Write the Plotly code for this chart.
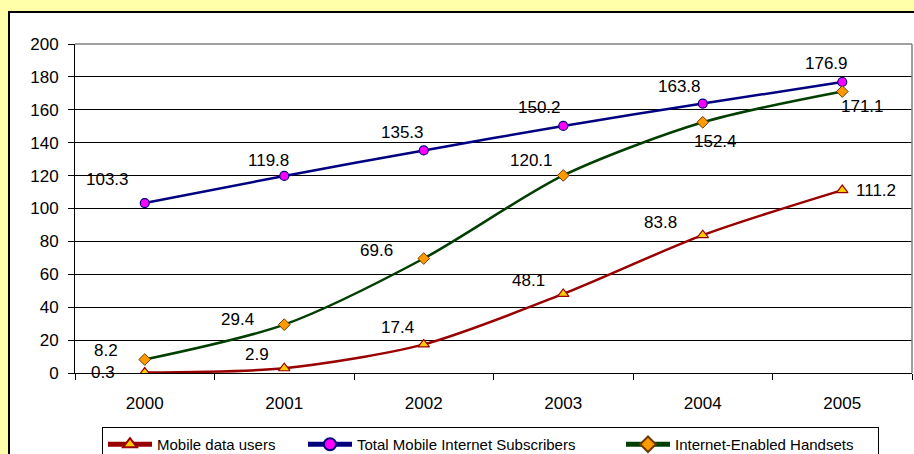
import plotly.graph_objects as go

years = ["2000", "2001", "2002", "2003", "2004", "2005"]
mobile_data_users = [0.3, 2.9, 17.4, 48.1, 83.8, 111.2]
total_subscribers = [103.3, 119.8, 135.3, 150.2, 163.8, 176.9]
enabled_handsets = [8.2, 29.4, 69.6, 120.1, 152.4, 171.1]
y_ticks = [0, 20, 40, 60, 80, 100, 120, 140, 160, 180, 200]

# label offsets in pixels (dx, dy) -- styling only
off_users = [(-42, 0), (-27, -14), (-26, -17), (-35, -13), (-42, -13), (34, 0)]
off_subs = [(-37, -24), (-16, -15), (-21, -18), (-24, -18), (-23, -17), (-16, -19)]
off_hand = [(-39, -9), (-47, -5), (-47, -8), (-32, -15), (13, 19), (20, 15)]

FONT = "Liberation Sans, Arial, sans-serif"
W, H = 914, 454
L, R, T, B = 75, 2, 44, 81
pw, ph = W - L - R, H - T - B

def px(x):
    return (x - L) / pw

def py(y):
    return (H - B - y) / ph

fig = go.Figure()

fig.add_trace(go.Scatter(
    x=years, y=mobile_data_users, name="Mobile data users",
    mode="lines+markers", line=dict(color="#990000", width=2.5, shape="spline", smoothing=0.8),
    marker=dict(symbol="triangle-up", size=10, color="#FFCC00", line=dict(color="#990000", width=1.2)),
    legendwidth=141,
))
fig.add_trace(go.Scatter(
    x=years, y=total_subscribers, name="Total Mobile Internet Subscribers",
    mode="lines+markers", line=dict(color="#000080", width=2.5, shape="spline", smoothing=0.8),
    marker=dict(symbol="circle", size=9, color="#FF00FF", line=dict(color="#000080", width=1.2)),
    legendwidth=259,
))
fig.add_trace(go.Scatter(
    x=years, y=enabled_handsets, name="Internet-Enabled Handsets",
    mode="lines+markers", line=dict(color="#003F00", width=2.5, shape="spline", smoothing=0.8),
    marker=dict(symbol="diamond", size=9, color="#FF9900", line=dict(color="#6B3A00", width=1)),
    legendwidth=198,
))

annotations = []
for vals, offs in ((mobile_data_users, off_users), (total_subscribers, off_subs), (enabled_handsets, off_hand)):
    for i, (v, (dx, dy)) in enumerate(zip(vals, offs)):
        annotations.append(dict(
            x=i, y=v, xref="x", yref="y", text=f"{v:.1f}", showarrow=False, xshift=dx, yshift=-dy,
            xanchor="center", yanchor="middle", font=dict(family=FONT, size=17, color="black"),
        ))

shapes = [
    # white chart area with black border
    dict(type="rect", xref="paper", yref="paper", x0=px(9), x1=px(930), y0=py(470), y1=py(12),
         line=dict(color="black", width=2), fillcolor="white", layer="below"),
    # plot area top and right borders
    dict(type="line", xref="paper", yref="paper", x0=0, x1=1, y0=1, y1=1,
         line=dict(color="#808080", width=1.5), layer="above"),
    dict(type="line", xref="paper", yref="paper", x0=1, x1=1, y0=0, y1=1,
         line=dict(color="#808080", width=1.5), layer="above"),
]

fig.update_layout(
    width=W, height=H,
    margin=dict(l=L, r=R, t=T, b=B, pad=0, autoexpand=False),
    paper_bgcolor="#FFFFAA",
    plot_bgcolor="white",
    font=dict(family=FONT, size=17, color="black"),
    showlegend=True,
    legend=dict(
        orientation="h", x=px(102), xanchor="left", y=py(427), yanchor="top",
        bgcolor="white", bordercolor="black", borderwidth=1,
        font=dict(family=FONT, size=15, color="black"),
        itemsizing="constant", itemwidth=44, traceorder="normal",
    ),
    xaxis=dict(
        type="category", categoryorder="array", categoryarray=years,
        range=[-0.5, 5.5], tickson="boundaries", ticks="outside", ticklen=6,
        tickcolor="black", tickwidth=1, showline=True, linecolor="black", linewidth=1,
        showgrid=False, zeroline=False, ticklabelstandoff=15,
        tickfont=dict(family=FONT, size=17, color="black"),
    ),
    yaxis=dict(
        range=[0, 200], tickmode="array", tickvals=y_ticks, ticktext=[str(t) for t in y_ticks],
        ticks="outside", ticklen=6, tickcolor="black", tickwidth=1,
        showline=True, linecolor="black", linewidth=1,
        showgrid=True, gridcolor="black", gridwidth=1, zeroline=False,
        ticklabelstandoff=6, tickfont=dict(family=FONT, size=17, color="black"),
    ),
    annotations=annotations,
    shapes=shapes,
)

fig.write_html(
    "out.html",
    config={"displayModeBar": False},
    post_script="document.body.style.margin='0';document.body.style.overflow='hidden';",
)
